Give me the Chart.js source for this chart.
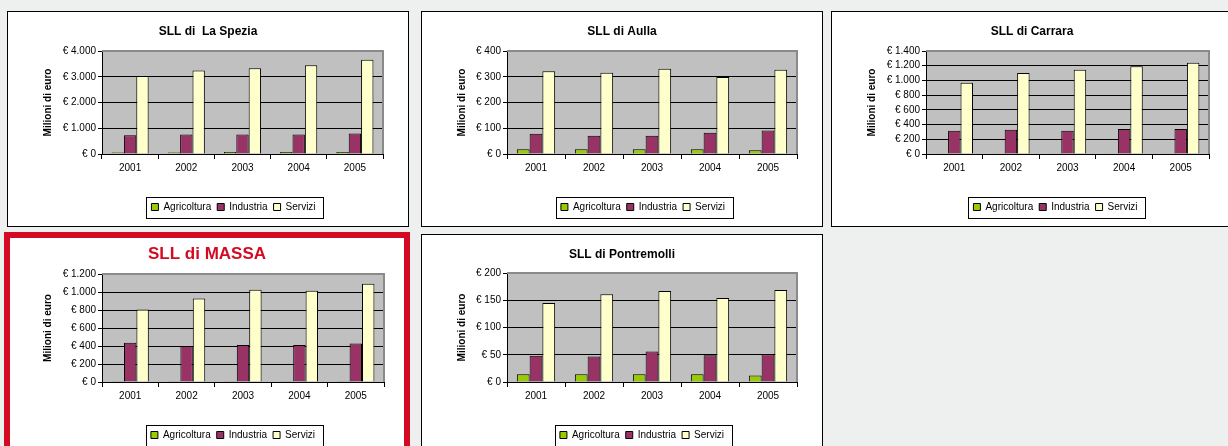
<!DOCTYPE html>
<html>
<head>
<meta charset="utf-8">
<script src="https://cdn.jsdelivr.net/npm/chart.js@4.4.1/dist/chart.umd.min.js"></script>
<style>
body { margin: 0; background: #eef0ef; width: 1228px; height: 446px; overflow: hidden; position: relative; }
.box { position: absolute; background: #fff; border: 1px solid #000; box-sizing: border-box; overflow: hidden; }
.box canvas { display: block; }
#massaBox { border: 6px solid #d40a22; }
</style>
</head>
<body>
<div class="box" id="speziaBox" style="left:7px;top:11px;width:402px;height:216px"><canvas id="spezia" width="400" height="212"></canvas></div>
<div class="box" id="aullaBox" style="left:421px;top:11px;width:402px;height:216px"><canvas id="aulla" width="400" height="212"></canvas></div>
<div class="box" id="carraraBox" style="left:831px;top:11px;width:402px;height:216px"><canvas id="carrara" width="400" height="212"></canvas></div>
<div class="box" id="massaBox" style="left:4px;top:232px;width:406px;height:230px"><canvas id="massa" width="394" height="214"></canvas></div>
<div class="box" id="pontreBox" style="left:421px;top:234px;width:402px;height:230px"><canvas id="pontre" width="400" height="217"></canvas></div>

<script>
// Categories and series (milioni di euro)
const years = ['2001', '2002', '2003', '2004', '2005'];
const seriesNames = ['Agricoltura', 'Industria', 'Servizi'];

const speziaAgr = [60, 60, 75, 75, 75];
const speziaInd = [725, 755, 755, 755, 800];
const speziaSer = [3030, 3240, 3330, 3445, 3665];

const aullaAgr = [18, 18, 18, 18, 15];
const aullaInd = [79, 71, 71, 83, 91];
const aullaSer = [321, 316, 331, 299, 327];

const carraraAgr = [3, 3, 3, 3, 3];
const carraraInd = [317, 331, 317, 340, 340];
const carraraSer = [970, 1100, 1146, 1192, 1241];

const massaAgr = [3, 3, 3, 3, 3];
const massaInd = [436, 399, 410, 410, 428];
const massaSer = [805, 927, 1026, 1015, 1093];

const pontreAgr = [14, 14, 14, 14, 12];
const pontreInd = [48, 47, 56, 49, 51];
const pontreSer = [145, 161, 167, 154, 169];

// y axis ranges [max, step]
const speziaAxis = [4000, 1000];
const aullaAxis = [400, 100];
const carraraAxis = [1400, 200];
const massaAxis = [1200, 200];
const pontreAxis = [200, 50];

const seriesColors = ['#99cc00', '#993366', '#ffffcc'];
const FONT = '"Liberation Sans", Arial, sans-serif';

function euro(v) {
    return '€ ' + String(v).replace(/\B(?=(\d{3})+(?!\d))/g, '.');
}

// grey plot area with the excel style frame, plus a box round the legend
const plotFrame = {
    id: 'plotFrame',
    afterUpdate(chart, args, opts) {
        // title centred on the whole canvas, legend nudged left like the original
        if (chart.titleBlock) {
            chart.titleBlock.left = 0;
            chart.titleBlock.right = chart.width;
        }
        const lg = chart.legend;
        if (lg && lg.legendHitBoxes) {
            const dx = opts.legendShift || 0;
            lg.left += dx;
            lg.right += dx;
            lg.legendHitBoxes.forEach(b => { b.left += dx; });
        }
    },
    beforeDraw(chart) {
        const a = chart.chartArea, ctx = chart.ctx;
        ctx.save();
        ctx.fillStyle = '#c0c0c0';
        ctx.fillRect(a.left, a.top, a.right - a.left, a.bottom - a.top);
        ctx.restore();
    },
    beforeDatasetsDraw(chart) {
        const a = chart.chartArea, ctx = chart.ctx;
        ctx.save();
        ctx.strokeStyle = '#8a8a8a';
        ctx.lineWidth = 2;
        ctx.beginPath();
        ctx.moveTo(a.left, a.top);
        ctx.lineTo(a.right, a.top);
        ctx.lineTo(a.right, a.bottom);
        ctx.stroke();
        ctx.restore();
    },
    afterDraw(chart) {
        const boxes = chart.legend && chart.legend.legendHitBoxes;
        if (!boxes || !boxes.length) return;
        const ctx = chart.ctx;
        let x0 = Infinity, x1 = -Infinity, y0 = Infinity, y1 = -Infinity;
        boxes.forEach(b => {
            x0 = Math.min(x0, b.left); x1 = Math.max(x1, b.left + b.width);
            y0 = Math.min(y0, b.top); y1 = Math.max(y1, b.top + b.height);
        });
        ctx.save();
        ctx.strokeStyle = '#000';
        ctx.lineWidth = 1;
        ctx.strokeRect(Math.round(x0 - 5) + 0.5, Math.round(y0 - 5) + 0.5, Math.round(x1 - x0 + 13), Math.round(y1 - y0 + 11));
        ctx.restore();
    }
};

function makeChart(id, o) {
    const canvas = document.getElementById(id);
    const w = canvas.width, h = canvas.height;
    const tf = o.titleSize, tlh = tf * 1.2;
    const padBottom = 2, legendH = 10 + 6 + 10;
    const xH = h - padBottom - legendH - o.area.b;
    const data = [o.agr, o.ind, o.ser];
    new Chart(canvas.getContext('2d'), {
        type: 'bar',
        data: {
            labels: years,
            datasets: seriesNames.map((name, i) => ({
                label: name,
                data: data[i],
                backgroundColor: seriesColors[i],
                borderColor: '#000',
                borderWidth: 1,
                borderSkipped: 'bottom',
                categoryPercentage: 0.66,
                barPercentage: 1.0
            }))
        },
        options: {
            responsive: false,
            animation: false,
            layout: { padding: { left: 0, top: 0, right: w - o.area.r, bottom: padBottom } },
            plugins: {
                title: {
                    display: true,
                    text: o.title,
                    color: o.titleColor,
                    font: { family: FONT, size: tf, weight: 'bold' },
                    padding: { top: o.titleY - tlh / 2, bottom: o.area.t - o.titleY - tlh / 2 }
                },
                legend: {
                    position: 'bottom',
                    fullSize: false,
                    labels: {
                        color: '#000',
                        font: { family: FONT, size: 10 },
                        boxWidth: 7,
                        boxHeight: 7,
                        padding: 6
                    }
                },
                tooltip: { enabled: false },
                plotFrame: { legendShift: o.legendShift }
            },
            scales: {
                x: {
                    afterFit(s) { s.height = xH; },
                    grid: { offset: true, drawOnChartArea: false, drawTicks: true, tickLength: 5, color: '#000' },
                    border: { color: '#000', width: 1 },
                    ticks: { color: '#000', padding: 3, font: { family: FONT, size: 10 } }
                },
                y: {
                    min: 0,
                    max: o.axis[0],
                    afterFit(s) { s.width = o.area.l; },
                    grid: { color: '#000', lineWidth: 1, tickLength: 4 },
                    border: { color: '#000', width: 1 },
                    ticks: {
                        stepSize: o.axis[1],
                        autoSkip: false,
                        color: '#000',
                        padding: 2,
                        font: { family: FONT, size: 10 },
                        callback: v => euro(v)
                    },
                    title: {
                        display: true,
                        text: 'Milioni di euro',
                        color: '#000',
                        font: { family: FONT, size: 10, weight: 'bold' },
                        padding: { top: o.yTitleX - 6, bottom: 0 }
                    }
                }
            }
        },
        plugins: [plotFrame]
    });
}

makeChart('spezia', {
    title: 'SLL di  La Spezia', titleSize: 12, titleColor: '#000',
    agr: speziaAgr, ind: speziaInd, ser: speziaSer, axis: speziaAxis,
    area: { l: 94, r: 375, t: 39, b: 142 }, titleY: 20, yTitleX: 40, legendShift: -9
});
makeChart('aulla', {
    title: 'SLL di Aulla', titleSize: 12, titleColor: '#000',
    agr: aullaAgr, ind: aullaInd, ser: aullaSer, axis: aullaAxis,
    area: { l: 85, r: 375, t: 39, b: 142 }, titleY: 20, yTitleX: 40, legendShift: -9
});
makeChart('carrara', {
    title: 'SLL di Carrara', titleSize: 12, titleColor: '#000',
    agr: carraraAgr, ind: carraraInd, ser: carraraSer, axis: carraraAxis,
    area: { l: 94, r: 377, t: 39, b: 142 }, titleY: 20, yTitleX: 40, legendShift: -12
});
makeChart('massa', {
    title: 'SLL di MASSA', titleSize: 17, titleColor: '#d40a22',
    agr: massaAgr, ind: massaInd, ser: massaSer, axis: massaAxis,
    area: { l: 92, r: 374, t: 36, b: 144 }, titleY: 16, yTitleX: 38, legendShift: -10
});
makeChart('pontre', {
    title: 'SLL di Pontremolli', titleSize: 12, titleColor: '#000',
    agr: pontreAgr, ind: pontreInd, ser: pontreSer, axis: pontreAxis,
    area: { l: 85, r: 375, t: 38, b: 147 }, titleY: 20, yTitleX: 40, legendShift: -10
});
</script>
</body>
</html>
